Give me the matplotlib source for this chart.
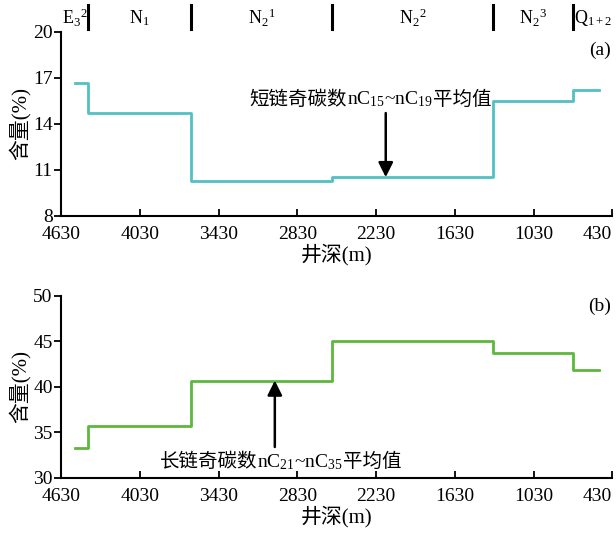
import matplotlib
matplotlib.use('Agg')
import matplotlib.pyplot as plt
import matplotlib.transforms as mtransforms

plt.rcParams['font.family'] = ['Liberation Serif', 'Noto Sans CJK SC']
plt.rcParams['mathtext.fontset'] = 'custom'
plt.rcParams['mathtext.rm'] = 'Liberation Serif'
plt.rcParams['mathtext.it'] = 'Liberation Serif'

# Depth steps (m) shared by both panels
depth_edges = [4524, 4425, 3643, 2564, 1341, 726, 529]
short_chain = [16.66, 14.70, 10.30, 10.52, 15.46, 16.22]   # nC15~nC19 (%)
long_chain = [33.25, 35.75, 40.7, 45.05, 43.7, 41.9]       # nC21~nC35 (%)

# Stratigraphic units along the top
strata_bounds = [4425, 3643, 2564, 1341, 726]
strata_labels = [r'E$_3$$^2$', r'N$_1$', r'N$_2$$^1$', r'N$_2$$^2$', r'N$_2$$^3$', r'Q$_{1+2}$']

x_ticks = [4630, 4030, 3430, 2830, 2230, 1630, 1030, 430]
y_ticks_a = [8, 11, 14, 17, 20]
y_ticks_b = [30, 35, 40, 45, 50]

cyan = '#52c0c5'
green = '#5db83c'
fs = 14


def step_line(ax, values, color):
    xs, ys = [], []
    for i, v in enumerate(values):
        xs += [depth_edges[i], depth_edges[i + 1]]
        ys += [v, v]
    ax.plot(xs, ys, color=color, lw=2)


def style_axes(ax, yticks):
    ax.set_xlim(4630, 430)
    ax.set_ylim(yticks[0], yticks[-1])
    ax.set_xticks(x_ticks)
    ax.set_yticks(yticks)
    ax.spines['top'].set_visible(False)
    ax.spines['right'].set_visible(False)
    ax.spines['left'].set_linewidth(1.5)
    ax.spines['bottom'].set_linewidth(1.5)
    ax.tick_params(axis='x', direction='in', length=5, width=1.3, labelsize=fs, pad=7)
    ax.tick_params(axis='y', direction='out', length=5, width=1.3, labelsize=fs, pad=1)
    ax.set_xlabel('井深(m)', fontsize=15, labelpad=1)
    ax.set_ylabel('含量(%)', fontsize=15, labelpad=2)


def label_with_subs(ax, x, y, left, mid, right):
    # mathtext can't draw CJK, so chain three text pieces on one baseline
    m = ax.text(x, y, mid, ha='center', va='baseline', fontsize=fs)
    ax.annotate(left, xy=(0, y), xycoords=(m, 'data'), ha='right', va='baseline', fontsize=fs)
    ax.annotate(right, xy=(1, y), xycoords=(m, 'data'), ha='left', va='baseline', fontsize=fs)


fig = plt.figure(figsize=(6.16, 5.37), dpi=100)
ax1 = fig.add_axes([0.099, 0.598, 0.895, 0.343])
ax2 = fig.add_axes([0.099, 0.110, 0.895, 0.339])

step_line(ax1, short_chain, cyan)
style_axes(ax1, y_ticks_a)
step_line(ax2, long_chain, green)
style_axes(ax2, y_ticks_b)

# strata header above panel (a)
trans = mtransforms.blended_transform_factory(ax1.transData, ax1.transAxes)
for b in strata_bounds:
    ax1.plot([b, b], [1.012, 1.145], color='black', lw=2.2, transform=trans, clip_on=False)
edges = [4630] + strata_bounds + [430]
for i, lab in enumerate(strata_labels):
    xc = (edges[i] + edges[i + 1]) / 2
    ax1.text(xc, 1.075, lab, transform=trans, ha='center', va='center', fontsize=13)

ax1.text(0.998, 0.90, '(a)', transform=ax1.transAxes, ha='right', va='center', fontsize=fs)
ax2.text(0.998, 0.94, '(b)', transform=ax2.transAxes, ha='right', va='center', fontsize=fs)

# annotations
ax1.annotate('', xy=(2156, short_chain[3]), xytext=(2156, 14.7),
             arrowprops=dict(arrowstyle='-|>', color='black', lw=1.8, mutation_scale=22,
                             shrinkA=0, shrinkB=0))
label_with_subs(ax1, 2125, 15.24, '短链奇碳数', r'nC$_{15}$~nC$_{19}$', '平均值')

ax2.annotate('', xy=(3001, long_chain[2]), xytext=(3001, 33.4),
             arrowprops=dict(arrowstyle='-|>', color='black', lw=1.8, mutation_scale=22,
                             shrinkA=0, shrinkB=0))
label_with_subs(ax2, 2810, 31.2, '长链奇碳数', r'nC$_{21}$~nC$_{35}$', '平均值')

fig.canvas.draw()
for ax in (ax1, ax2):
    ax.get_xticklabels()[-1].set_ha('right')

fig.savefig('out.png', dpi=100)
